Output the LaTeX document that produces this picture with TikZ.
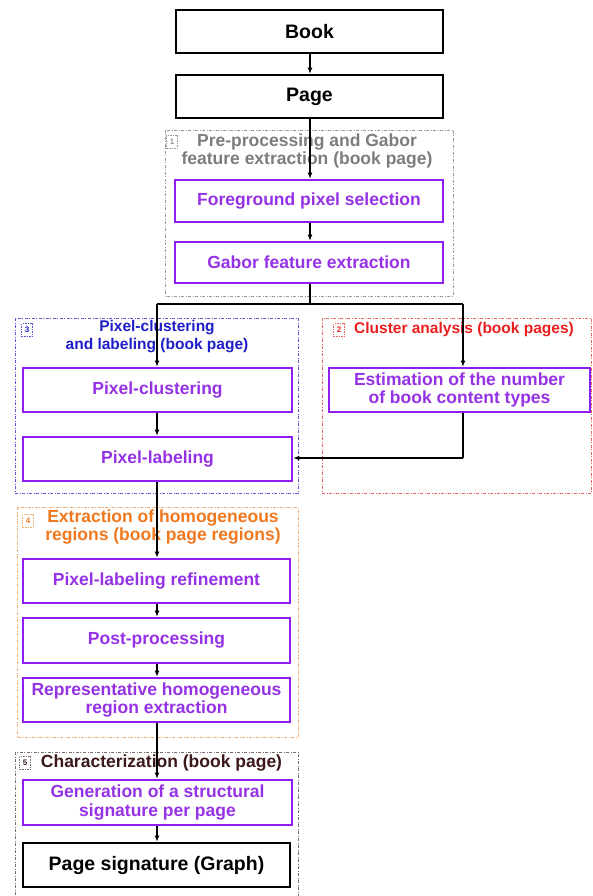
\documentclass[tikz,border=0pt]{standalone}
\usepackage{fontspec}
\setmainfont{Liberation Sans}
\usetikzlibrary{arrows.meta}
\definecolor{boxviolet}{RGB}{140,30,240}
\definecolor{txtviolet}{RGB}{150,50,230}
\definecolor{grpgray}{RGB}{150,150,150}
\definecolor{grpblue}{RGB}{90,90,210}
\definecolor{grpred}{RGB}{230,100,100}
\definecolor{grporange}{RGB}{240,170,110}
\definecolor{grpdark}{RGB}{120,110,110}
\definecolor{ttlgray}{RGB}{125,125,125}
\definecolor{ttlblue}{RGB}{30,30,200}
\definecolor{ttlred}{RGB}{235,30,30}
\definecolor{ttlorange}{RGB}{240,120,30}
\definecolor{ttldark}{RGB}{60,25,25}
\tikzset{
  pbox/.style={draw=boxviolet, line width=2.6pt, fill=white, text=txtviolet,
    font=\fontsize{17.5}{18.5}\selectfont\bfseries, align=center, inner sep=0pt},
  kbox/.style={draw=black, line width=2.6pt, fill=white, text=black,
    font=\fontsize{19.5}{21}\selectfont\bfseries, align=center, inner sep=0pt},
  grp/.style={line width=0.8pt, dash pattern=on 3pt off 1.5pt on 1pt off 1.5pt},
  num/.style={draw, line width=0.7pt, dash pattern=on 1.5pt off 1pt, minimum width=11pt,
    minimum height=13pt, inner sep=0pt, font=\fontsize{8}{9}\selectfont\bfseries},
  ttl/.style={font=\fontsize{17.5}{18.5}\selectfont\bfseries, align=center, inner sep=0pt},
  conn/.style={draw=black, line width=1.1pt},
  arr/.style={conn, -{Latex[length=6pt,width=5pt]}}
}
\begin{document}
\begin{tikzpicture}[x=1pt,y=-1pt]
\useasboundingbox[fill=white] (0,0) rectangle (592,896);
% groups
\draw[grp, draw=grpgray] (165,130) rectangle (453,296);
\draw[grp, draw=grpblue] (15,318) rectangle (298,493);
\draw[grp, draw=grpred] (322,318) rectangle (591.5,493);
\draw[grp, draw=grporange] (17,507) rectangle (298,737);
\draw[grp, draw=grpdark] (15,752) rectangle (298,900);
% group labels
\node[num, draw=grpgray, text=grpgray] (n1) at (172,142) {1};
\node[ttl, text=ttlgray] (t1) at (307,151) {Pre-processing and Gabor\\feature extraction (book page)};
\node[num, draw=grpblue, text=ttlblue] (n3) at (27,330) {3};
\node[ttl, text=ttlblue, font=\fontsize{15.5}{17.5}\selectfont\bfseries] (t3) at (157,336.5) {Pixel-clustering\\and labeling (book page)};
\node[num, draw=grpred, text=ttlred] (n2) at (339,330) {2};
\node[ttl, text=ttlred, font=\fontsize{15.5}{17}\selectfont\bfseries] (t2) at (464,330) {Cluster analysis (book pages)};
\node[num, draw=grporange, text=ttlorange] (n4) at (28,521) {4};
\node[ttl, text=ttlorange] (t4) at (163,527) {Extraction of homogeneous\\regions (book page regions)};
\node[num, draw=grpdark, text=ttldark] (n5) at (25,763) {5};
\node[ttl, text=ttldark] (t5) at (161.5,763) {Characterization (book page)};
% boxes
\node[kbox, minimum width=267pt, minimum height=43pt] (book) at (309.5,31.5) {Book};
\node[kbox, minimum width=267pt, minimum height=43pt] (page) at (309.5,96.5) {Page};
\node[pbox, minimum width=268pt, minimum height=42pt] (fg) at (309,201) {Foreground pixel selection};
\node[pbox, minimum width=268pt, minimum height=41pt] (gab) at (309,262.5) {Gabor feature extraction};
\node[pbox, minimum width=269pt, minimum height=44pt] (pc) at (157.5,390) {Pixel-clustering};
\node[pbox, minimum width=269pt, minimum height=44pt] (pl) at (157.5,459) {Pixel-labeling};
\node[pbox, minimum width=261pt, minimum height=44pt] (est) at (459.5,390) {Estimation of the number\\of book content types};
\node[pbox, minimum width=267pt, minimum height=44pt] (ref) at (156.5,581) {Pixel-labeling refinement};
\node[pbox, minimum width=267pt, minimum height=45pt] (post) at (156.5,640.5) {Post-processing};
\node[pbox, minimum width=267pt, minimum height=44pt] (rep) at (156.5,700) {Representative homogeneous\\region extraction};
\node[pbox, minimum width=269pt, minimum height=45pt] (gen) at (157.5,802.5) {Generation of a structural\\signature per page};
\node[kbox, minimum width=267pt, minimum height=44pt] (sig) at (156.5,865) {Page signature (Graph)};
% connectors
\coordinate (split) at (310,304);
\coordinate (splitL) at (157,304);
\coordinate (splitR) at (463,304);
\coordinate (back) at (463,458);
\draw[arr] (book.south -| 310,0) -- (page.north -| 310,0);
\draw[arr] (page.south -| 310,0) -- (fg.north -| 310,0);
\draw[arr] (fg.south -| 310,0) -- (gab.north -| 310,0);
\draw[conn] (gab.south -| 310,0) -- (split);
\draw[conn] (splitL) -- (splitR);
\draw[arr] (splitL) -- (pc.north -| splitL);
\draw[arr] (splitR) -- (est.north -| splitR);
\draw[arr] (pc.south -| 157,0) -- (pl.north -| 157,0);
\draw[conn] (est.south -| back) -- (back);
\draw[arr] (back) -- (pl.east |- back);
\draw[arr] (pl.south -| 157,0) -- (ref.north -| 157,0);
\draw[arr] (ref.south -| 157,0) -- (post.north -| 157,0);
\draw[arr] (post.south -| 157,0) -- (rep.north -| 157,0);
\draw[arr] (rep.south -| 157,0) -- (gen.north -| 157,0);
\draw[arr] (gen.south -| 157,0) -- (sig.north -| 157,0);
\end{tikzpicture}
\end{document}
